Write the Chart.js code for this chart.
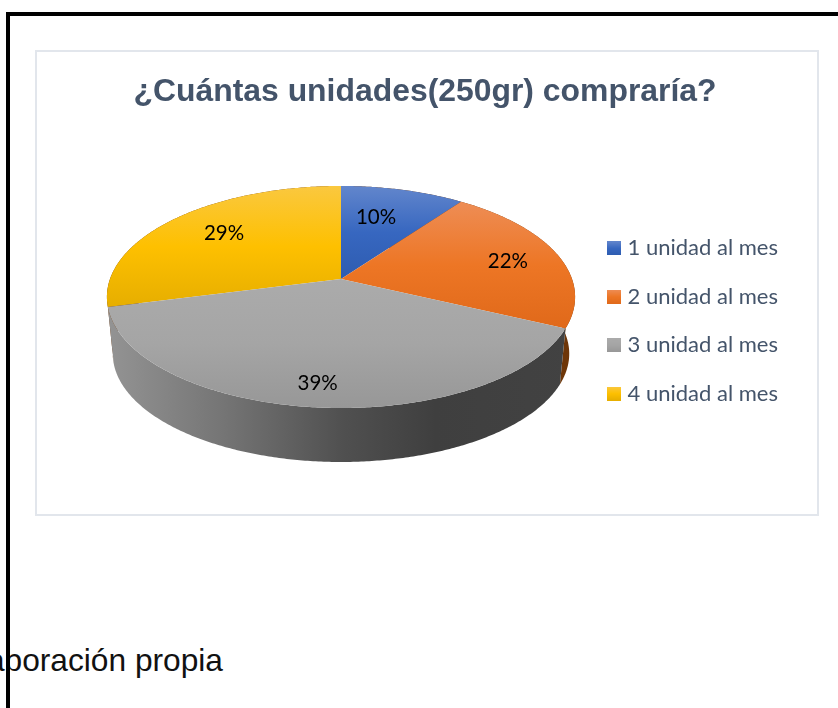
<!DOCTYPE html>
<html lang="es">
<head>
<meta charset="utf-8">
<title>¿Cuántas unidades(250gr) compraría?</title>
<script src="https://cdn.jsdelivr.net/npm/chart.js@4"></script>
<style>
  html, body { margin: 0; padding: 0; background: #fff; overflow: hidden; }
  body { position: relative; width: 838px; height: 708px; }
  #myChart { position: absolute; left: 0; top: 0; }
  .box { position: absolute; box-sizing: border-box; }
  #frame { left: 35px; top: 50px; width: 784px; height: 466px; border: 2px solid #e2e6ec; }
  #lineTop { left: 6px; top: 12px; width: 832px; height: 4px; background: #000; }
  #lineLeft { left: 6px; top: 12px; width: 4px; height: 696px; background: #000; }
  #source { position: absolute; right: 615px; top: 642px; white-space: nowrap;
    font: 31.7px "Liberation Sans", Arial, sans-serif; color: #111; }
</style>
</head>
<body>
<div id="source">Elaboración propia</div>
<div class="box" id="frame"></div>
<canvas id="myChart" width="838" height="708"></canvas>
<div class="box" id="lineTop"></div>
<div class="box" id="lineLeft"></div>
<script>
const titleText = "¿Cuántas unidades(250gr) compraría?";
const categories = ["1 unidad al mes", "2 unidad al mes", "3 unidad al mes", "4 unidad al mes"];
const percentages = [10, 22, 39, 29];

// light, middle, dark stop of each slice
const blueStops = ["#6286cc", "#3767c0", "#2e5cb0"];
const orangeStops = ["#ee8d55", "#ed7625", "#e0691a"];
const grayStops = ["#ababab", "#a5a5a5", "#979797"];
const yellowStops = ["#fac83f", "#fec000", "#e6ae00"];
const sliceStops = [blueStops, orangeStops, grayStops, yellowStops];

// how far out along the slice its label sits, and how far it is turned off the middle (degrees)
const labelDepth = [0.654, 0.762, 0.838, 0.71];
const labelTurn = [-3.2, 1.4, 0.6, 2.2];

// the pie lies tilted: a circle seen in perspective, center moved up from the ellipse center
const apexX = 341, apexY = 279;
const tiltA = 231, tiltB = 62.9, tiltP = -0.162;
const wallDrop = 57.2, wallScale = 0.975;

function project(angle, f, scale, drop)
{
  const u = Math.cos(angle) * f;
  const v = Math.sin(angle) * f;
  const d = 1 + tiltP * v;
  return {
    x: apexX + scale * tiltA * u / d,
    y: apexY + scale * ((tiltB * v + apexY) / d - apexY) + drop,
  };
}

function rimPoints(start, end, scale, drop)
{
  const points = [];
  const steps = Math.max(2, Math.ceil((end - start) / 0.01));
  for (let i = 0; i <= steps; i++)
    points.push(project(start + (end - start) * i / steps, 1, scale, drop));
  return points;
}

function wallFill(ctx, index)
{
  const g = ctx.createLinearGradient(110, 0, 575, 0);
  if (index === 2) {
    g.addColorStop(0, "#939393");
    g.addColorStop(0.25, "#747474");
    g.addColorStop(0.5, "#505050");
    g.addColorStop(0.7, "#3f3f3f");
    g.addColorStop(1, "#424242");
  } else {
    g.addColorStop(0, "#6e3608");
    g.addColorStop(1, "#6e3608");
  }
  return g;
}

const tiltedPie = {
  id: "tiltedPie",
  beforeDatasetDraw(chart) {
    const ctx = chart.ctx;
    const arcs = chart.getDatasetMeta(0).data;
    const order = arcs.map((a, i) => i).sort((i, j) => {
      const mid = k => (arcs[k].startAngle + arcs[k].endAngle) / 2 + Math.PI / 2;
      return Math.abs(mid(j) - Math.PI) - Math.abs(mid(i) - Math.PI);
    });

    ctx.save();
    // side wall first, far slices before near ones
    order.forEach(i => {
      const top = rimPoints(arcs[i].startAngle, arcs[i].endAngle, 1, 0);
      const bottom = rimPoints(arcs[i].startAngle, arcs[i].endAngle, wallScale, wallDrop).reverse();
      ctx.beginPath();
      top.concat(bottom).forEach((p, n) => n ? ctx.lineTo(p.x, p.y) : ctx.moveTo(p.x, p.y));
      ctx.closePath();
      ctx.fillStyle = wallFill(ctx, i);
      ctx.fill();
    });

    // top faces
    order.forEach(i => {
      const rim = rimPoints(arcs[i].startAngle, arcs[i].endAngle, 1, 0);
      const ys = rim.map(p => p.y).concat(apexY);
      const g = ctx.createLinearGradient(0, Math.min(...ys), 0, Math.max(...ys));
      g.addColorStop(0, sliceStops[i][0]);
      g.addColorStop(0.5, sliceStops[i][1]);
      g.addColorStop(1, sliceStops[i][2]);
      ctx.beginPath();
      ctx.moveTo(apexX, apexY);
      rim.forEach(p => ctx.lineTo(p.x, p.y));
      ctx.closePath();
      ctx.fillStyle = g;
      ctx.fill();
    });

    // percent labels
    ctx.fillStyle = "#000";
    ctx.font = '20.5px Lato';
    ctx.textAlign = "center";
    ctx.textBaseline = "middle";
    arcs.forEach((arc, i) => {
      const turn = labelTurn[i] * Math.PI / 180;
      const p = project((arc.startAngle + arc.endAngle) / 2 + turn, labelDepth[i], 1, 0);
      ctx.fillText(percentages[i] + "%", p.x, p.y);
    });
    ctx.restore();
    return false;
  },
};

function swatch(stops)
{
  const c = document.createElement("canvas");
  c.width = 14;
  c.height = 14;
  const x = c.getContext("2d");
  const g = x.createLinearGradient(0, 0, 0, 14);
  g.addColorStop(0, stops[0]);
  g.addColorStop(0.5, stops[1]);
  g.addColorStop(1, stops[2]);
  x.fillStyle = g;
  x.fillRect(0, 0, 14, 14);
  return c;
}

new Chart(document.getElementById("myChart"), {
  type: "pie",
  data: {
    labels: categories,
    datasets: [{
      data: percentages,
      backgroundColor: sliceStops.map(s => s[1]),
      borderWidth: 0,
    }],
  },
  options: {
    responsive: false,
    animation: false,
    layout: { padding: { left: 62, right: 50, top: 73, bottom: 139 } },
    plugins: {
      title: {
        display: true,
        text: titleText,
        color: "#44546a",
        font: { family: '"Liberation Sans"', size: 31.9, weight: "bold" },
        padding: { top: 0, bottom: 10 },
      },
      legend: {
        position: "right",
        labels: {
          color: "#44546a",
          font: { family: "Lato", size: 22 },
          usePointStyle: true,
          pointStyleWidth: 6,
          padding: 26.4,
          generateLabels: () => categories.map((text, i) => ({
            text: text,
            index: i,
            fontColor: "#44546a",
            pointStyle: swatch(sliceStops[i]),
            fillStyle: sliceStops[i][1],
            strokeStyle: sliceStops[i][1],
            lineWidth: 0,
            hidden: false,
          })),
        },
      },
      tooltip: { enabled: false },
    },
  },
  plugins: [tiltedPie],
});
</script>
</body>
</html>
